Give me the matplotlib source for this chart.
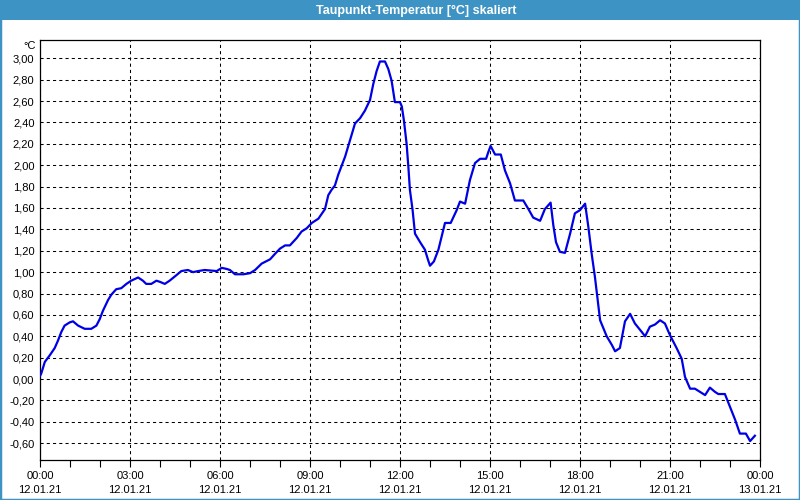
import matplotlib
matplotlib.use('Agg')
import matplotlib.pyplot as plt
from matplotlib.patches import Rectangle
from matplotlib.ticker import MultipleLocator

# --- data (hours since 12.01.21 00:00, dew point in °C) ---
hours = [0.00, 0.04, 0.16, 0.32, 0.49, 0.60, 0.71, 0.82, 0.99, 1.10, 1.27, 1.49, 1.71, 1.88, 1.99,
         2.10, 2.27, 2.38, 2.54, 2.71, 2.88, 3.04, 3.27, 3.43, 3.54, 3.71, 3.88, 3.99, 4.16, 4.32,
         4.54, 4.71, 4.93, 5.10, 5.27, 5.49, 5.89, 6.06, 6.22, 6.33, 6.50, 6.78, 7.00, 7.17, 7.39,
         7.67, 7.83, 8.00, 8.17, 8.33, 8.56, 8.72, 8.89, 9.06, 9.28, 9.50, 9.61, 9.72, 9.83, 9.94,
         10.06, 10.17, 10.33, 10.50, 10.67, 10.83, 11.00, 11.11, 11.22, 11.33, 11.50, 11.61, 11.72,
         11.83, 12.00, 12.06, 12.13, 12.22, 12.28, 12.33, 12.42, 12.50, 12.67, 12.83, 12.94, 13.00,
         13.13, 13.28, 13.50, 13.69, 13.89, 14.00, 14.17, 14.33, 14.50, 14.67, 14.87, 14.94, 15.02,
         15.17, 15.36, 15.50, 15.67, 15.83, 16.11, 16.28, 16.44, 16.67, 16.83, 17.02, 17.11, 17.20,
         17.33, 17.50, 17.67, 17.83, 18.00, 18.17, 18.28, 18.39, 18.50, 18.67, 18.89, 19.06, 19.17,
         19.33, 19.50, 19.67, 19.83, 20.06, 20.17, 20.33, 20.50, 20.67, 20.83, 21.00, 21.22, 21.39,
         21.50, 21.67, 21.83, 22.00, 22.17, 22.33, 22.50, 22.61, 22.83, 23.00, 23.17, 23.33, 23.53,
         23.67, 23.83]
dewpoint = [0.03, 0.05, 0.16, 0.22, 0.29, 0.36, 0.44, 0.50, 0.53, 0.54, 0.50, 0.47, 0.47, 0.50, 0.56,
            0.64, 0.74, 0.79, 0.84, 0.85, 0.89, 0.92, 0.95, 0.92, 0.89, 0.89, 0.92, 0.91, 0.89, 0.92,
            0.97, 1.01, 1.02, 1.00, 1.01, 1.02, 1.01, 1.04, 1.03, 1.02, 0.98, 0.98, 0.99, 1.02, 1.08,
            1.12, 1.17, 1.22, 1.25, 1.25, 1.32, 1.38, 1.41, 1.46, 1.50, 1.59, 1.72, 1.77, 1.81, 1.91,
            2.00, 2.08, 2.23, 2.39, 2.44, 2.51, 2.61, 2.76, 2.88, 2.97, 2.97, 2.90, 2.79,
            2.59, 2.59, 2.55, 2.42, 2.20, 1.98, 1.77, 1.58, 1.36, 1.28, 1.21, 1.11, 1.06,
            1.10, 1.21, 1.46, 1.46, 1.58, 1.66, 1.64, 1.86, 2.02, 2.06, 2.06, 2.12, 2.18,
            2.10, 2.10, 1.95, 1.83, 1.67, 1.67, 1.59, 1.51, 1.48, 1.59, 1.65, 1.44, 1.28,
            1.19, 1.18, 1.36, 1.55, 1.58, 1.64, 1.42, 1.17, 0.95, 0.55, 0.40, 0.32, 0.26,
            0.29, 0.54, 0.61, 0.52, 0.44, 0.40, 0.49, 0.51, 0.55, 0.52, 0.41, 0.29, 0.19,
            0.02, -0.09, -0.09, -0.12, -0.15, -0.08, -0.12, -0.14, -0.14, -0.26, -0.38, -0.51, -0.51,
            -0.58, -0.53]

tick_hours = [0, 3, 6, 9, 12, 15, 18, 21, 24]
tick_times = ["00:00", "03:00", "06:00", "09:00", "12:00", "15:00", "18:00", "21:00", "00:00"]
tick_dates = ["12.01.21"] * 8 + ["13.01.21"]
y_ticks = [-0.6, -0.4, -0.2, 0.0, 0.2, 0.4, 0.6, 0.8, 1.0, 1.2, 1.4, 1.6, 1.8, 2.0, 2.2, 2.4,
           2.6, 2.8, 3.0]

plt.rcParams['font.family'] = ['Liberation Sans', 'DejaVu Sans']

W, H = 800, 500
band = '#3d93c4'
fig = plt.figure(figsize=(8, 5), dpi=100)
fig.patch.set_facecolor('white')
fig.patches.append(Rectangle((0, 1 - 20 / H), 1, 20 / H, transform=fig.transFigure,
                             facecolor=band, edgecolor='none', zorder=0))
fig.patches.append(Rectangle((0, 0), 1, 1, transform=fig.transFigure, fill=False,
                             edgecolor=band, linewidth=2.5, zorder=5))
fig.text(0.52, 1 - 10.5 / H, 'Taupunkt-Temperatur [°C] skaliert', ha='center', va='center',
         color='white', fontweight='bold', fontsize=9)

ax = fig.add_axes([40 / W, 40 / H, 720 / W, 420 / H])
ax.set_facecolor('white')
ax.plot(hours, dewpoint, color='#0000e6', linewidth=1.6, zorder=3)
ax.set_xlim(0, 24)
ax.set_ylim(-0.757, 3.171)

ax.set_yticks(y_ticks)
ax.set_yticklabels([f"{v:.2f}".replace('.', ',') for v in y_ticks], fontsize=8)
ax.tick_params(axis='y', length=0, pad=4)

ax.set_xticks(tick_hours)
ax.set_xticklabels([f"{t}\n{d}" for t, d in zip(tick_times, tick_dates)], fontsize=8)
for lab in ax.get_xticklabels():
    lab.set_linespacing(1.45)
ax.xaxis.set_minor_locator(MultipleLocator(1))
ax.tick_params(axis='x', which='both', direction='out', length=5, width=0.8, pad=3)

ax.grid(True, color='black', linestyle=(0, (3, 3)), linewidth=0.75)
for s in ax.spines.values():
    s.set_linewidth(0.9)
    s.set_color('black')

ax.text(-4 / 720, 1 - 6 / 420, '°C', transform=ax.transAxes, ha='right', va='center', fontsize=8)

fig.savefig('out.png', dpi=100)
